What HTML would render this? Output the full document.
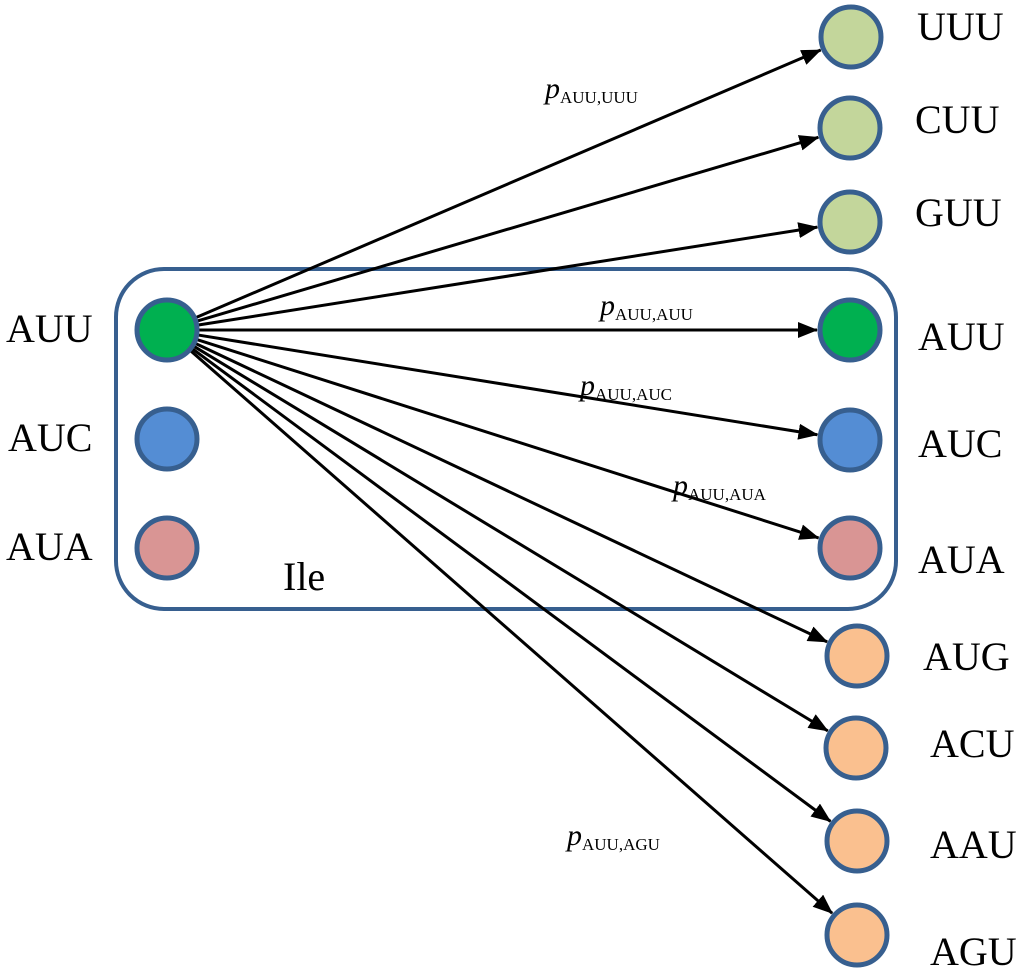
<!DOCTYPE html>
<html><head><meta charset="utf-8"><style>
html,body{margin:0;padding:0;background:#fff;}
svg{display:block;}
.lbl{font-family:"Liberation Serif",serif;font-size:40px;fill:#000;}
.p{font-family:"Liberation Serif",serif;font-style:italic;font-size:30px;}
.s{font-family:"Liberation Serif",serif;font-size:17px;font-style:normal;}
</style></head><body>
<svg id="g" width="1024" height="977" viewBox="0 0 1024 977" xmlns="http://www.w3.org/2000/svg">
<defs>
<marker id="b" markerWidth="20" markerHeight="16" refX="19" refY="8" orient="auto" markerUnits="userSpaceOnUse" viewBox="0 0 20 16"><path d="M0,0 L20,8 L0,16 z" fill="#000"/></marker></defs>
<rect x="116" y="269" width="780" height="340" rx="48" ry="48" fill="none" stroke="#375f8f" stroke-width="4"/>
<g id="edges" stroke="#000" stroke-width="3"></g>
<g stroke="#375f8f" stroke-width="5">
<circle cx="167" cy="330" r="30" fill="#00b050"/>
<circle cx="167" cy="439" r="30" fill="#548dd4"/>
<circle cx="167" cy="548" r="30" fill="#d99594"/>
<circle cx="851" cy="37" r="30" fill="#c3d69b"/>
<circle cx="850" cy="128" r="30" fill="#c3d69b"/>
<circle cx="850" cy="222" r="30" fill="#c3d69b"/>
<circle cx="850" cy="330" r="30" fill="#00b050"/>
<circle cx="850" cy="440" r="30" fill="#548dd4"/>
<circle cx="850" cy="548" r="30" fill="#d99594"/>
<circle cx="857" cy="656" r="30" fill="#fac08f"/>
<circle cx="856" cy="748" r="30" fill="#fac08f"/>
<circle cx="857" cy="841" r="30" fill="#fac08f"/>
<circle cx="857" cy="935" r="30" fill="#fac08f"/>
</g>
<text class="lbl" x="6" y="342">AUU</text>
<text class="lbl" x="8" y="451">AUC</text>
<text class="lbl" x="6" y="560">AUA</text>
<text class="lbl" x="283" y="590">Ile</text>
<text class="lbl" x="917" y="40">UUU</text>
<text class="lbl" x="915" y="133">CUU</text>
<text class="lbl" x="915" y="226">GUU</text>
<text class="lbl" x="918" y="350">AUU</text>
<text class="lbl" x="918" y="457">AUC</text>
<text class="lbl" x="918" y="573">AUA</text>
<text class="lbl" x="923" y="670">AUG</text>
<text class="lbl" x="930" y="757">ACU</text>
<text class="lbl" x="930" y="858">AAU</text>
<text class="lbl" x="930" y="965">AGU</text>
<text class="p" x="545" y="98">p<tspan class="s" dy="5">AUU,UUU</tspan></text>
<text class="p" x="600" y="315">p<tspan class="s" dy="5">AUU,AUU</tspan></text>
<text class="p" x="580" y="395">p<tspan class="s" dy="5">AUU,AUC</tspan></text>
<text class="p" x="673" y="495">p<tspan class="s" dy="5">AUU,AUA</tspan></text>
<text class="p" x="567" y="845">p<tspan class="s" dy="5">AUU,AGU</tspan></text>
</svg>
<script>
var T=[[851,37],[850,128],[850,222],[850,330],[850,440],[850,548],[857,656],[856,748],[857,841],[857,935]];
var g=document.getElementById('edges'),sx=167,sy=330,h='';
T.forEach(function(t){var dx=t[0]-sx,dy=t[1]-sy,l=Math.hypot(dx,dy),ux=dx/l,uy=dy/l;
h+='<line x1="'+(sx+ux*31)+'" y1="'+(sy+uy*31)+'" x2="'+(t[0]-ux*33)+'" y2="'+(t[1]-uy*33)+'" marker-end="url(#b)"/>';});
g.innerHTML=h;
</script>
</body></html>
